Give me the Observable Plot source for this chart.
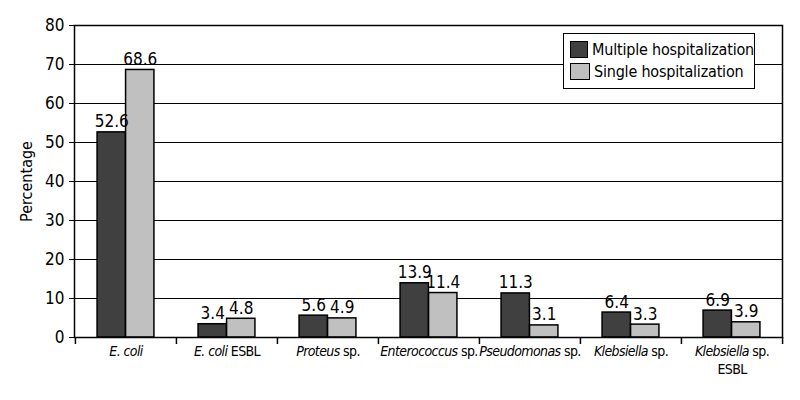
<!DOCTYPE html>
<html>
<head>
<meta charset="utf-8">
<script src="https://cdn.jsdelivr.net/npm/d3@7"></script>
<script src="https://cdn.jsdelivr.net/npm/@observablehq/plot@0.6"></script>
<style>
  html, body { margin: 0; padding: 0; background: #fff; }
  #wrap { position: relative; width: 800px; height: 400px; font-family: "DejaVu Sans", sans-serif; font-stretch: condensed; }
  #wrap svg text { font-stretch: condensed; }
  #legend { position: absolute; left: 563px; top: 33px; width: 190px; height: 54px; border: 1.5px solid #000; background: #fff; font-size: 16px; white-space: nowrap; font-stretch: condensed; letter-spacing: -0.2px; }
  #legend .row { display: flex; align-items: center; height: 22px; margin-left: 6px; }
  #legend .row:first-child { margin-top: 4px; }
  #legend .sw { width: 20px; height: 17px; border: 1.5px solid #000; margin-right: 4px; box-sizing: border-box; }
</style>
</head>
<body>
<div id="wrap"></div>
<script>
const italicParts = ["E. coli", "E. coli", "Proteus", "Enterococcus", "Pseudomonas", "Klebsiella", "Klebsiella"];
const normalParts = ["", " ESBL", " sp.", " sp.", " sp.", " sp.", " sp."];
const secondLines = ["", "", "", "", "", "", "ESBL"];
const categories = italicParts.map((d, i) => d + normalParts[i] + (secondLines[i] ? " " + secondLines[i] : ""));
const seriesNames = ["Multiple hospitalization", "Single hospitalization"];
const seriesColors = ["#404040", "#c0c0c0"];
const multiple = [52.6, 3.4, 5.6, 13.9, 11.3, 6.4, 6.9];
const single = [68.6, 4.8, 4.9, 11.4, 3.1, 3.3, 3.9];
const yTicks = [0, 10, 20, 30, 40, 50, 60, 70, 80];

const W = 800, H = 400, mL = 74, mR = 18, mT = 25, mB = 63;
const bw = (W - mL - mR) / categories.length;
const barW = 28.5;

const rowsM = categories.map((c, i) => ({category: c, value: multiple[i]}));
const rowsS = categories.map((c, i) => ({category: c, value: single[i]}));

const chart = Plot.plot({
  width: W, height: H,
  marginLeft: mL, marginRight: mR, marginTop: mT, marginBottom: mB,
  style: {fontFamily: '"DejaVu Sans", sans-serif', background: "#fff", color: "#000"},
  x: {domain: categories, padding: 0},
  y: {domain: [0, 80]},
  marks: [
    Plot.ruleY(yTicks, {stroke: "#000", strokeWidth: 1.2}),
    Plot.barY(rowsM, {x: "category", y: "value", fill: seriesColors[0], stroke: "#000", strokeWidth: 1.5, insetLeft: bw / 2 - barW, insetRight: bw / 2}),
    Plot.barY(rowsS, {x: "category", y: "value", fill: seriesColors[1], stroke: "#000", strokeWidth: 1.5, insetLeft: bw / 2, insetRight: bw / 2 - barW}),
    Plot.text(rowsM, {x: "category", y: "value", text: d => d.value.toFixed(1), dx: -barW / 2, dy: -5, lineAnchor: "bottom", fontSize: 17, fill: "#000"}),
    Plot.text(rowsS, {x: "category", y: "value", text: d => d.value.toFixed(1), dx: barW / 2, dy: -5, lineAnchor: "bottom", fontSize: 17, fill: "#000"}),
    Plot.ruleX(categories, {x: d => d, y1: 0, y2: 0, dx: -bw / 2, insetBottom: -7, stroke: "#000", strokeWidth: 1.5}),
    Plot.ruleX(categories.slice(-1), {x: d => d, y1: 0, y2: 0, dx: bw / 2, insetBottom: -7, stroke: "#000", strokeWidth: 1.5}),
    Plot.frame({stroke: "#000", strokeWidth: 1.5}),
    Plot.axisY(yTicks, {tickSize: 5, tickPadding: 5, fontSize: 17, label: "Percentage", labelAnchor: "center", labelArrow: "none", labelOffset: 54}),
    Plot.axisX({tickSize: 0, tickPadding: 9, fontSize: 14, label: null})
  ]
});

document.getElementById("wrap").appendChild(chart);

// Mixed italic / roman category labels
const ns = "http://www.w3.org/2000/svg";
chart.querySelectorAll('g[aria-label="x-axis tick label"] text').forEach((t, i) => {
  const x = t.getAttribute("x") || 0;
  t.setAttribute("letter-spacing", "-0.6");
  while (t.firstChild) t.removeChild(t.firstChild);
  const a = document.createElementNS(ns, "tspan");
  a.setAttribute("font-style", "italic");
  a.textContent = italicParts[i];
  t.appendChild(a);
  if (normalParts[i]) {
    const b = document.createElementNS(ns, "tspan");
    b.textContent = normalParts[i];
    t.appendChild(b);
  }
  if (secondLines[i]) {
    const c = document.createElementNS(ns, "tspan");
    c.setAttribute("x", x);
    c.setAttribute("dy", "1.25em");
    c.textContent = secondLines[i];
    t.appendChild(c);
  }
});
const ylab = chart.querySelector('g[aria-label="y-axis label"] text');
if (ylab) ylab.setAttribute("font-size", 16);

// Legend
const legend = document.createElement("div");
legend.id = "legend";
seriesNames.forEach((n, i) => {
  const row = document.createElement("div");
  row.className = "row";
  const sw = document.createElement("div");
  sw.className = "sw";
  sw.style.background = seriesColors[i];
  const lab = document.createElement("span");
  lab.textContent = n;
  row.appendChild(sw);
  row.appendChild(lab);
  legend.appendChild(row);
});
document.getElementById("wrap").appendChild(legend);
</script>
</body>
</html>
